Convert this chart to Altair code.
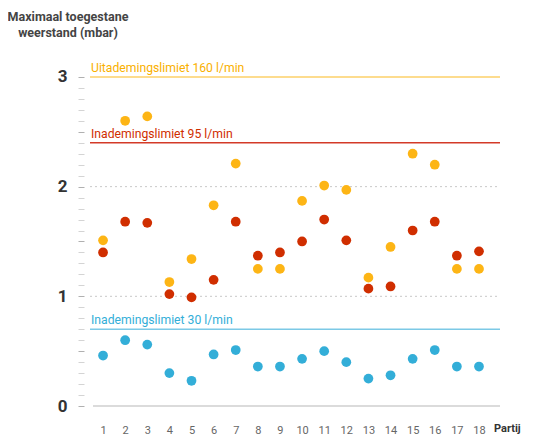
import altair as alt
import pandas as pd

partij = list(range(1, 19))
uit160 = [1.51, 2.60, 2.64, 1.13, 1.34, 1.83, 2.21, 1.25, 1.25, 1.87, 2.01, 1.97, 1.17, 1.45, 2.30, 2.20, 1.25, 1.25]
in95 = [1.40, 1.68, 1.67, 1.02, 0.99, 1.15, 1.68, 1.37, 1.40, 1.50, 1.70, 1.51, 1.07, 1.09, 1.60, 1.68, 1.37, 1.41]
in30 = [0.46, 0.60, 0.56, 0.30, 0.23, 0.47, 0.51, 0.36, 0.36, 0.43, 0.50, 0.40, 0.25, 0.28, 0.43, 0.51, 0.36, 0.36]

series_names = ["Uitademing 160", "Inademing 95", "Inademing 30"]
series_colors = ["#fdb515", "#d02e00", "#33aed8"]

limit_values = [3.0, 2.4, 0.7]
limit_labels = ["Uitademingslimiet 160 l/min", "Inademingslimiet 95 l/min", "Inademingslimiet 30 l/min"]
limit_line_colors = ["#fdd068", "#d33a28", "#7cc9e6"]
limit_text_colors = ["#f9b000", "#d02e00", "#33aed8"]

grid_values = [1, 2]
y_ticks = [round(i * 0.1, 1) for i in range(31)]

title_lines = ["Maximaal toegestane", "weerstand (mbar)"]
x_title = "Partij"

FONT = "Roboto"
W, H = 410, 351

rows = []
for name, vals in zip(series_names, [uit160, in95, in30]):
    for p, v in zip(partij, vals):
        rows.append({"partij": p, "waarde": v, "serie": name})
df = pd.DataFrame(rows)

limits = pd.DataFrame({"waarde": limit_values, "label": limit_labels,
                       "lc": limit_line_colors, "tc": limit_text_colors})
grid = pd.DataFrame({"waarde": grid_values})
base0 = pd.DataFrame({"waarde": [0]})

xscale = alt.Scale(domain=[0.41, 18.95], nice=False, zero=False)
yscale = alt.Scale(domain=[0, 3.2], nice=False)

points = alt.Chart(df).mark_circle(size=95, opacity=1).encode(
    x=alt.X("partij:Q", scale=xscale,
            axis=alt.Axis(values=partij, tickCount=40, domain=False, ticks=False, grid=False,
                          labelPadding=18, labelColor="#666", labelFontSize=11,
                          labelFont=FONT, title=None, format="d", labelOverlap=False)),
    y=alt.Y("waarde:Q", scale=yscale,
            axis=alt.Axis(values=y_ticks, tickCount=100, domain=False, grid=False, offset=6,
                          tickSize=6, labelOverlap=False,
                          tickColor={"condition": {"test": "abs(datum.value*2 - round(datum.value*2)) < 0.001", "value": "#b0b0b0"}, "value": "#d4d4d4"},
                          labelExpr="abs(datum.value - round(datum.value)) < 0.001 ? format(datum.value, 'd') : ''",
                          labelPadding=11, labelFont=FONT, labelFontSize=17,
                          labelFontWeight="bold", labelColor="#333", title=None)),
    color=alt.Color("serie:N", scale=alt.Scale(domain=series_names, range=series_colors), legend=None),
)

gridlines = alt.Chart(grid).mark_rule(strokeDash=[2, 3], color="#c8c8c8", strokeWidth=1).encode(
    y=alt.Y("waarde:Q", scale=yscale), x=alt.value(0), x2=alt.value(W))

baseline = alt.Chart(base0).mark_rule(color="#cfcfcf", strokeWidth=1.5).encode(
    y=alt.Y("waarde:Q", scale=yscale), x=alt.value(3), x2=alt.value(W))

limit_rules = alt.Chart(limits).mark_rule(strokeWidth=1.5).encode(
    y=alt.Y("waarde:Q", scale=yscale), x=alt.value(0), x2=alt.value(W),
    color=alt.Color("lc:N", scale=None))

limit_text = alt.Chart(limits).mark_text(align="left", baseline="bottom", dy=-2, dx=1,
                                         font=FONT, fontSize=12.2).encode(
    y=alt.Y("waarde:Q", scale=yscale), x=alt.value(0), text="label:N",
    color=alt.Color("tc:N", scale=None))

title1 = alt.Chart(pd.DataFrame({"t": [title_lines[0]]})).mark_text(
    align="center", baseline="middle", font=FONT, fontSize=12.5, fontWeight="bold", color="#444").encode(
    x=alt.value(-22), y=alt.value(-38), text="t:N")
title2 = alt.Chart(pd.DataFrame({"t": [title_lines[1]]})).mark_text(
    align="center", baseline="middle", font=FONT, fontSize=12.5, fontWeight="bold", color="#444").encode(
    x=alt.value(-22), y=alt.value(-22), text="t:N")

partij_text = alt.Chart(pd.DataFrame({"t": [x_title]})).mark_text(
    align="left", baseline="middle", font=FONT, fontSize=11, fontWeight="bold", color="#333").encode(
    x=alt.value(404), y=alt.value(374), text="t:N")

chart = alt.layer(gridlines, baseline, limit_rules, limit_text, points, title1, title2, partij_text).properties(
    width=W, height=H,
    autosize=alt.AutoSizeParams(type="none"),
    padding={"left": 82, "top": 47, "right": 27, "bottom": 31},
).configure_view(stroke=None)

chart.save("out.html", embed_options={"renderer": "svg", "actions": False})
